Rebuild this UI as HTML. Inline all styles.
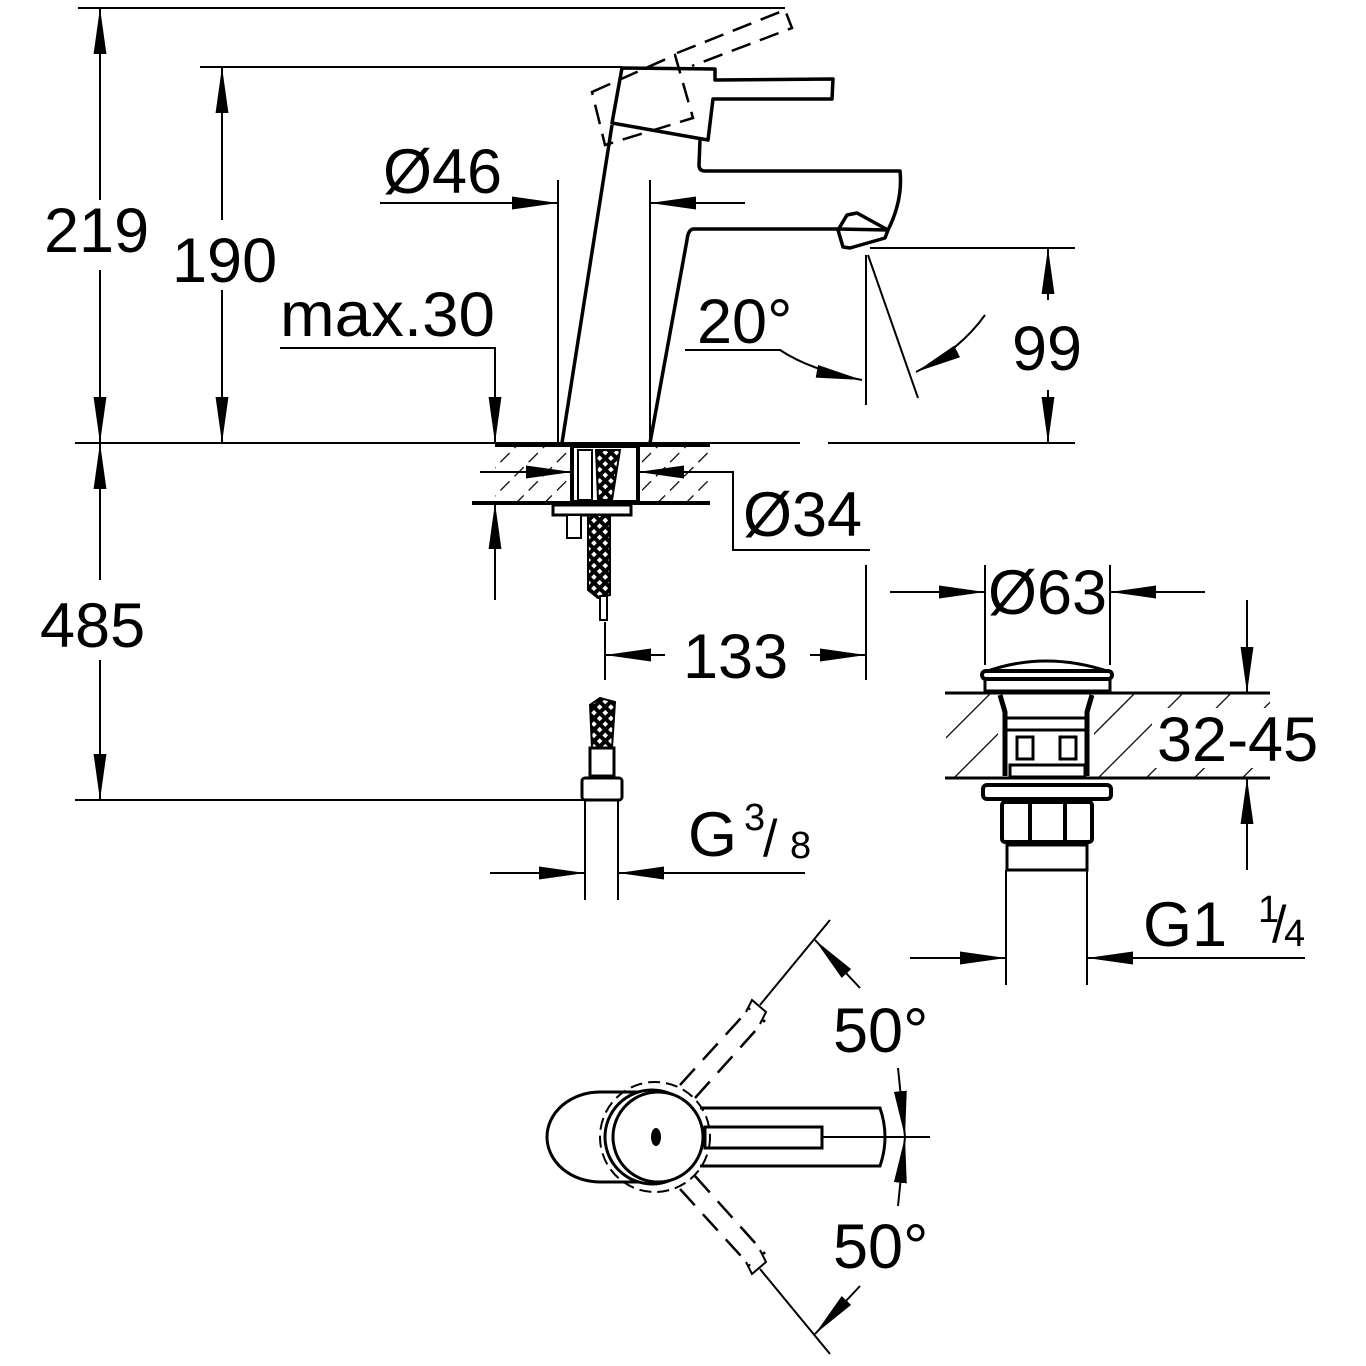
<!DOCTYPE html>
<html><head><meta charset="utf-8"><style>html,body{margin:0;padding:0;background:#fff}svg{display:block}text{font-family:"Liberation Sans",sans-serif;fill:#000}</style></head><body>
<svg width="1366" height="1366" viewBox="0 0 1366 1366" xmlns="http://www.w3.org/2000/svg">
<defs>
<marker id="b" viewBox="0 0 10 10" refX="10" refY="5" markerWidth="46" markerHeight="46" markerUnits="userSpaceOnUse" orient="auto"><path d="M0,3.6 L10,5 L0,6.4z" fill="#000"/></marker>
<pattern id="h" width="20" height="20" patternUnits="userSpaceOnUse" patternTransform="rotate(45)"><line x1="0" y1="0" x2="0" y2="20" stroke="#000" stroke-width="2.5" stroke-dasharray="13 7"/></pattern>
<pattern id="h2" width="34" height="34" patternUnits="userSpaceOnUse" patternTransform="rotate(45)"><line x1="0" y1="0" x2="0" y2="34" stroke="#000" stroke-width="2.5"/></pattern>
<pattern id="br" width="8" height="8" patternUnits="userSpaceOnUse" patternTransform="rotate(45)"><rect width="8" height="8" fill="#000"/><rect x="2" y="2" width="4" height="4" fill="#fff"/></pattern>
</defs>
<g stroke="#000" fill="none" stroke-width="2">
<line x1="78" y1="8" x2="785" y2="8"/>
<line x1="200" y1="67" x2="622" y2="67"/>
<line x1="75" y1="443" x2="800" y2="443"/>
<line x1="828" y1="443" x2="1075" y2="443"/>
<line x1="75" y1="800" x2="585" y2="800"/>
<line x1="100" y1="200" x2="100" y2="8" marker-end="url(#b)"/>
<line x1="100" y1="270" x2="100" y2="443" marker-end="url(#b)"/>
<line x1="100" y1="580" x2="100" y2="443" marker-end="url(#b)"/>
<line x1="100" y1="660" x2="100" y2="800" marker-end="url(#b)"/>
<line x1="222" y1="220" x2="222" y2="67" marker-end="url(#b)"/>
<line x1="222" y1="290" x2="222" y2="443" marker-end="url(#b)"/>
<polyline points="280,348 495,348 495,443"/>
<line x1="495" y1="380" x2="495" y2="443" marker-end="url(#b)"/>
<line x1="495" y1="600" x2="495" y2="503" marker-end="url(#b)"/>
<line x1="558" y1="180" x2="558" y2="443"/>
<line x1="650" y1="180" x2="650" y2="443"/>
<line x1="380" y1="203" x2="558" y2="203" marker-end="url(#b)"/>
<line x1="745" y1="203" x2="650" y2="203" marker-end="url(#b)"/>
</g>
<g stroke="#000" fill="none" stroke-width="3.5" stroke-linejoin="round">
<polygon points="622,68 715,69 715,80 833,79 832,99 713,99 708,140 612,123"/>
<line x1="612" y1="125" x2="562" y2="443"/>
<path d="M700,140 L699,165 Q699,171 705,171 L900,171 Q903,200 888,230 L838,229 L693,229 Q688,230 687,240 L650,443"/>
<polygon points="838,230 847,215 857,213 888,230 885,238 850,248 843,247"/>
</g>
<g stroke="#000" fill="none" stroke-width="2.5" stroke-dasharray="20 10">
<polygon points="592,92 675,55 693,118 605,145"/>
<polyline points="677,53 785,10 792,28 692,66"/>
</g>
<g stroke="#000" fill="none" stroke-width="2">
<line x1="866" y1="255" x2="866" y2="405"/>
<line x1="868" y1="255" x2="918" y2="398"/>
<path d="M685,350 L780,350 Q810,370 862,380" marker-end="url(#b)"/>
<path d="M985,315 Q960,350 916,372" marker-end="url(#b)"/>
<line x1="870" y1="248" x2="1075" y2="248"/>
<line x1="1048" y1="300" x2="1048" y2="248" marker-end="url(#b)"/>
<line x1="1048" y1="390" x2="1048" y2="443" marker-end="url(#b)"/>
</g>
<rect x="495" y="445" width="215" height="56" fill="url(#h)"/>
<rect x="568" y="444" width="74" height="58" fill="#fff"/>
<g stroke="#000" fill="none">
<line x1="495" y1="445" x2="710" y2="445" stroke-width="4"/>
<line x1="472" y1="503" x2="710" y2="503" stroke-width="4"/>
<rect x="572" y="446" width="66" height="56" stroke-width="4"/>
<rect x="578" y="450" width="14" height="50" stroke-width="2"/>
</g>
<polygon points="596,450 620,450 612,500 598,500" fill="url(#br)" stroke="#000" stroke-width="2"/>
<rect x="553" y="505" width="78" height="10" fill="#fff" stroke="#000" stroke-width="3"/>
<rect x="567" y="515" width="14" height="23" fill="#fff" stroke="#000" stroke-width="2"/>
<polygon points="588,515 610,515 610,595 598,598 588,590" fill="url(#br)" stroke="#000" stroke-width="2"/>
<rect x="600" y="596" width="7" height="24" fill="#fff" stroke="#000" stroke-width="2"/>
<g stroke="#000" fill="none" stroke-width="2">
<line x1="480" y1="472" x2="572" y2="472" marker-end="url(#b)"/>
<polyline points="870,550 733,550 733,472 710,472"/>
<line x1="710" y1="472" x2="638" y2="472" marker-end="url(#b)"/>
<line x1="605" y1="622" x2="605" y2="680"/>
<line x1="866" y1="565" x2="866" y2="680"/>
<line x1="665" y1="655" x2="605" y2="655" marker-end="url(#b)"/>
<line x1="810" y1="655" x2="866" y2="655" marker-end="url(#b)"/>
<line x1="585" y1="800" x2="585" y2="900"/>
<line x1="618" y1="800" x2="618" y2="900"/>
<line x1="490" y1="873" x2="585" y2="873" marker-end="url(#b)"/>
<line x1="805" y1="873" x2="618" y2="873" marker-end="url(#b)"/>
</g>
<polygon points="590,705 600,698 615,702 612,748 592,748" fill="url(#br)" stroke="#000" stroke-width="2"/>
<rect x="590" y="748" width="24" height="28" fill="#fff" stroke="#000" stroke-width="3"/>
<rect x="582" y="778" width="40" height="22" rx="3" fill="#fff" stroke="#000" stroke-width="3"/>
<g stroke="#000" fill="none" stroke-width="2">
<line x1="985" y1="565" x2="985" y2="665"/>
<line x1="1110" y1="565" x2="1110" y2="665"/>
<line x1="890" y1="592" x2="985" y2="592" marker-end="url(#b)"/>
<line x1="1205" y1="592" x2="1110" y2="592" marker-end="url(#b)"/>
<line x1="1247" y1="600" x2="1247" y2="693" marker-end="url(#b)"/>
<line x1="1247" y1="870" x2="1247" y2="778" marker-end="url(#b)"/>
<line x1="910" y1="958" x2="1006" y2="958" marker-end="url(#b)"/>
<line x1="1305" y1="958" x2="1087" y2="958" marker-end="url(#b)"/>
<line x1="1006" y1="870" x2="1006" y2="985"/>
<line x1="1087" y1="870" x2="1087" y2="985"/>
</g>
<rect x="946" y="694" width="324" height="84" fill="url(#h2)"/>
<rect x="998" y="694" width="96" height="84" fill="#fff"/>
<rect x="1152" y="708" width="118" height="60" fill="#fff"/>
<g stroke="#000" fill="none">
<line x1="945" y1="693" x2="1270" y2="693" stroke-width="3"/>
<line x1="945" y1="778" x2="1270" y2="778" stroke-width="3"/>
<path d="M985,672 Q1045,650 1110,672" stroke-width="3"/>
<rect x="982" y="671" width="130" height="8" rx="4" fill="#fff" stroke-width="4"/>
<rect x="985" y="679" width="125" height="12" stroke-width="3"/>
<path d="M1000,695 Q1003,705 1005,712 L1005,776 M1092,695 Q1089,705 1087,712 L1087,776" stroke-width="5"/>
<rect x="1005" y="718" width="82" height="12" stroke-width="3"/>
<rect x="1017" y="737" width="16" height="22" stroke-width="3"/>
<rect x="1060" y="737" width="16" height="22" stroke-width="3"/>
<rect x="1010" y="765" width="75" height="12" stroke-width="3"/>
<rect x="983" y="785" width="128" height="14" rx="4" stroke-width="4"/>
<rect x="1002" y="802" width="90" height="40" rx="3" stroke-width="4"/>
<line x1="1030" y1="802" x2="1030" y2="842" stroke-width="4"/>
<line x1="1065" y1="802" x2="1065" y2="842" stroke-width="4"/>
<rect x="1007" y="845" width="80" height="25" stroke-width="3"/>
</g>
<g stroke="#000" fill="none">
<path d="M650,1092 L600,1092 A53,45 0 0 0 600,1182 L650,1182" stroke-width="3"/>
<circle cx="652" cy="1137" r="47" stroke-width="3" fill="#fff"/>
<circle cx="658" cy="1137" r="45" stroke-width="3" fill="#fff"/>
<circle cx="655" cy="1137" r="55" stroke-width="2" stroke-dasharray="12 6"/>
<path d="M700,1108 L880,1108 Q890,1137 880,1166 L700,1166" stroke-width="3"/>
<rect x="705" y="1127" width="117" height="21" stroke-width="3"/>
<line x1="822" y1="1137" x2="930" y2="1137" stroke-width="2"/>
<g stroke-width="2.5" stroke-dasharray="22 12">
<line x1="680" y1="1085" x2="750" y2="1008"/>
<line x1="695" y1="1098" x2="765" y2="1020"/>
<line x1="680" y1="1189" x2="750" y2="1266"/>
<line x1="695" y1="1176" x2="765" y2="1254"/>
</g>
<path d="M746,1012 L752,1000 L766,1012 L760,1024" stroke-width="2"/>
<path d="M746,1262 L752,1274 L766,1262 L760,1250" stroke-width="2"/>
<line x1="760" y1="1005" x2="830" y2="920" stroke-width="2"/>
<line x1="760" y1="1269" x2="830" y2="1354" stroke-width="2"/>
<line x1="860" y1="988" x2="815" y2="940" stroke-width="2" marker-end="url(#b)"/>
<line x1="860" y1="1286" x2="815" y2="1334" stroke-width="2" marker-end="url(#b)"/>
<line x1="898" y1="1068" x2="905" y2="1137" stroke-width="2" marker-end="url(#b)"/>
<line x1="898" y1="1206" x2="905" y2="1137" stroke-width="2" marker-end="url(#b)"/>
</g>
<ellipse cx="656" cy="1137" rx="5" ry="9" fill="#000"/>
<g font-size="63">
<text x="44" y="252">219</text>
<text x="172" y="282">190</text>
<text x="40" y="647">485</text>
<text x="280" y="336" textLength="215" lengthAdjust="spacingAndGlyphs">max.30</text>
<text x="383" y="193">Ø46</text>
<text x="697" y="343">20°</text>
<text x="1012" y="370">99</text>
<text x="743" y="536">Ø34</text>
<text x="683" y="678">133</text>
<text x="988" y="614">Ø63</text>
<text x="1157" y="761">32-45</text>
<text x="688" y="856">G</text>
<text x="1143" y="946">G1</text>
<text x="833" y="1052">50°</text>
<text x="833" y="1268">50°</text>
</g>
<g font-size="38">
<text x="744" y="830">3</text><text x="790" y="858">8</text>
<text x="1258" y="922">1</text><text x="1284" y="946">4</text>
</g>
<g font-size="52"><text x="763" y="856">/</text><text x="1272" y="942">/</text></g>
</svg>
</body></html>
